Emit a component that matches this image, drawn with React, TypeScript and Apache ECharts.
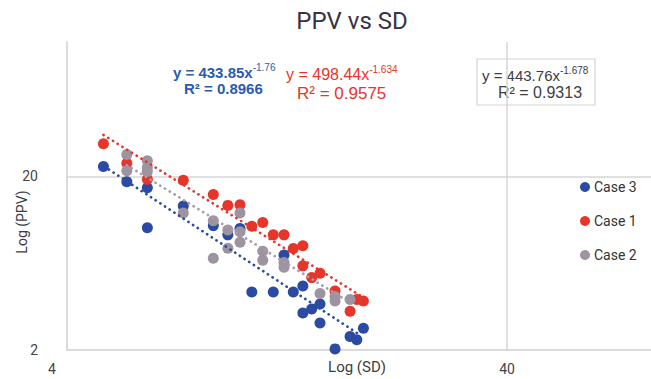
import React, { useEffect, useRef } from "react";
import * as echarts from "echarts";

// Case 3 (blue)
const case3SD = [4.84, 5.47, 6.09, 6.09, 7.35, 8.6, 9.28, 9.89, 10.52, 11.77, 12.45, 13.07, 13.74, 13.74, 14.39, 15.03, 15.03, 16.26, 17.59, 18.22, 18.86];
const case3PPV = [22.8, 18.6, 17.2, 10.1, 13.5, 10.4, 9.2, 10.0, 4.32, 4.31, 7.04, 4.32, 4.67, 3.27, 3.44, 3.68, 2.86, 2.03, 2.39, 2.29, 2.67];

// Case 1 (red)
const case1SD = [4.84, 5.47, 6.09, 7.35, 8.6, 9.28, 9.89, 10.52, 11.14, 11.77, 12.45, 13.07, 13.74, 13.74, 14.39, 15.03, 16.26, 17.59, 18.22, 18.86];
const case1PPV = [30.8, 23.8, 19.2, 19.0, 15.7, 13.6, 13.7, 10.3, 10.85, 9.2, 9.2, 7.68, 7.97, 6.1, 5.22, 5.53, 4.37, 3.34, 3.91, 3.83];

// Case 2 (grey)
const case2SD = [5.47, 5.47, 6.09, 6.09, 6.09, 7.35, 8.6, 8.6, 9.28, 9.28, 9.89, 9.89, 9.89, 11.14, 11.14, 12.45, 12.45, 15.03, 16.26, 16.26, 17.59];
const case2PPV = [26.7, 21.5, 24.6, 22.5, 21.3, 12.3, 11.1, 6.74, 9.8, 7.7, 12.3, 9.6, 8.35, 7.41, 6.57, 6.37, 5.99, 4.23, 4.07, 3.83, 3.91];

// Power trend lines (end points)
const trend3SD = [4.86, 18.22];
const trend3PPV = [22.8, 2.51];
const trend1SD = [4.84, 18.86];
const trend1PPV = [34.6, 4.01];
const trend2SD = [5.47, 17.59];
const trend2PPV = [23.2, 3.75];

const xTickLabels = ["4", "40"];
const yTickLabels = ["2", "20"];
const X0 = 4;
const Y0 = 2;

const BLUE = "#2a4aa3";
const RED = "#e6352a";
const GREY = "#9d93a1";

const tx = (v: number) => Math.log10(v / X0);
const ty = (v: number) => Math.log10(v / Y0);
const pts = (xs: number[], ys: number[]) => xs.map((x, i) => [tx(x), ty(ys[i])]);

export default function App() {
  const ref = useRef<HTMLDivElement>(null);
  useEffect(() => {
    if (!ref.current) return;
    const chart = echarts.init(ref.current, undefined, { renderer: "svg" });
    const scatter = (name: string, xs: number[], ys: number[], color: string, z: number) => ({
      name,
      type: "scatter",
      data: pts(xs, ys),
      symbol: "circle",
      symbolSize: 11,
      itemStyle: { color, opacity: 1 },
      z,
    });
    const trend = (xs: number[], ys: number[], color: string) => ({
      type: "line",
      data: pts(xs, ys),
      symbol: "none",
      silent: true,
      lineStyle: { color, width: 2.7, type: [0.1, 5.5], cap: "round" },
      z: 5,
    });
    chart.setOption({
      animation: false,
      backgroundColor: "#ffffff",
      grid: { left: 67, right: 0, top: 42, bottom: 29, containLabel: false, outerBoundsMode: "none" },
      xAxis: {
        type: "value",
        min: 0,
        max: 1.327,
        interval: 1,
        axisLine: { show: true, onZero: false, lineStyle: { color: "#cfcfcf", width: 1.5 } },
        axisTick: { show: false },
        splitLine: { show: true, showMinLine: false, showMaxLine: false, lineStyle: { color: "#d6d6d6", width: 1.5 } },
        axisLabel: {
          margin: 12,
          color: "#444",
          fontFamily: "Roboto",
          fontSize: 14,
          showMaxLabel: true,
          formatter: (v: number) => {
            const i = Math.round(v);
            if (Math.abs(v - i) > 1e-6 || !xTickLabels[i]) return "";
            return i === 0 ? `{f|${xTickLabels[i]}}` : xTickLabels[i];
          },
          rich: { f: { padding: [0, 30, 0, 0], fontSize: 14, fontFamily: "Roboto", color: "#444" } },
        },
      },
      yAxis: {
        type: "value",
        min: 0,
        max: 1.773,
        interval: 1,
        axisLine: { show: true, lineStyle: { color: "#cfcfcf", width: 1.5 } },
        axisTick: { show: false },
        splitLine: { show: true, showMinLine: false, showMaxLine: false, lineStyle: { color: "#d6d6d6", width: 1.5 } },
        axisLabel: {
          margin: 29,
          color: "#444",
          fontFamily: "Roboto",
          fontSize: 14,
          formatter: (v: number) => {
            const i = Math.round(v);
            if (Math.abs(v - i) > 1e-6 || !yTickLabels[i]) return "";
            return yTickLabels[i];
          },
        },
      },
      legend: {
        data: ["Case 3", "Case 1", "Case 2"],
        orient: "vertical",
        left: 575,
        top: 175,
        itemGap: 20,
        itemWidth: 10,
        itemHeight: 10,
        icon: "circle",
        textStyle: { color: "#333", fontFamily: "Roboto", fontSize: 14, padding: [0, 0, 0, -1] },
      },
      graphic: [
        {
          type: "text",
          x: 352,
          y: 21,
          style: { text: "PPV vs SD", fill: "#3b3145", font: '24px Roboto', align: "center", verticalAlign: "middle" },
        },
        {
          type: "text",
          x: 22,
          y: 222,
          rotation: Math.PI / 2,
          style: { text: "Log (PPV)", fill: "#3d3d45", font: '14px Roboto', align: "center", verticalAlign: "middle" },
        },
        {
          type: "text",
          x: 357,
          y: 367,
          style: { text: "Log (SD)", fill: "#3d3d45", font: '15px Roboto', align: "center", verticalAlign: "middle" },
        },
        {
          type: "text",
          x: 173,
          y: 71,
          style: {
            text: "{a|y = 433.85x}{s|-1.76}",
            verticalAlign: "middle",
            rich: {
              a: { fontSize: 15, fontWeight: "bold", fontFamily: "Liberation Sans", fill: "#2a5bb0", lineHeight: 18, verticalAlign: "bottom" },
              s: { fontSize: 10, fontFamily: "Liberation Sans", fill: "#2a5bb0", lineHeight: 18, verticalAlign: "top" },
            },
          },
        },
        {
          type: "text",
          x: 184,
          y: 88,
          style: { text: "R² = 0.8966", fill: "#2a5bb0", font: 'bold 15px "Liberation Sans"', verticalAlign: "middle" },
        },
        {
          type: "text",
          x: 286,
          y: 73,
          style: {
            text: "{a|y = 498.44x}{s|-1.634}",
            verticalAlign: "middle",
            rich: {
              a: { fontSize: 16, fontFamily: "Liberation Sans", fill: RED, lineHeight: 18, verticalAlign: "bottom" },
              s: { fontSize: 10, fontFamily: "Liberation Sans", fill: RED, lineHeight: 18, verticalAlign: "top" },
            },
          },
        },
        {
          type: "text",
          x: 297,
          y: 93,
          style: { text: "R² = 0.9575", fill: RED, font: '17px "Liberation Sans"', verticalAlign: "middle" },
        },
        {
          type: "rect",
          shape: { x: 477, y: 59, width: 118, height: 46 },
          style: { fill: "none", stroke: "#d4d4d4", lineWidth: 1.2 },
          z: 10,
        },
        {
          type: "text",
          x: 482,
          y: 74,
          style: {
            text: "{a|y = 443.76x}{s|-1.678}",
            verticalAlign: "middle",
            rich: {
              a: { fontSize: 15, fontFamily: "Liberation Sans", fill: "#3d3d45", lineHeight: 18, verticalAlign: "bottom" },
              s: { fontSize: 10, fontFamily: "Liberation Sans", fill: "#3d3d45", lineHeight: 18, verticalAlign: "top" },
            },
          },
        },
        {
          type: "text",
          x: 498,
          y: 92,
          style: { text: "R² = 0.9313", fill: "#3d3d45", font: '16px "Liberation Sans"', verticalAlign: "middle" },
        },
      ],
      series: [
        scatter("Case 3", case3SD, case3PPV, BLUE, 2),
        scatter("Case 1", case1SD, case1PPV, RED, 3),
        scatter("Case 2", case2SD, case2PPV, GREY, 4),
        trend(trend3SD, trend3PPV, BLUE),
        trend(trend1SD, trend1PPV, RED),
        trend(trend2SD, trend2PPV, "#a59da8"),
      ],
    });
    return () => chart.dispose();
  }, []);
  return <div ref={ref} style={{ width: 651, height: 379, position: "absolute", left: 0, top: 0 }} />;
}
